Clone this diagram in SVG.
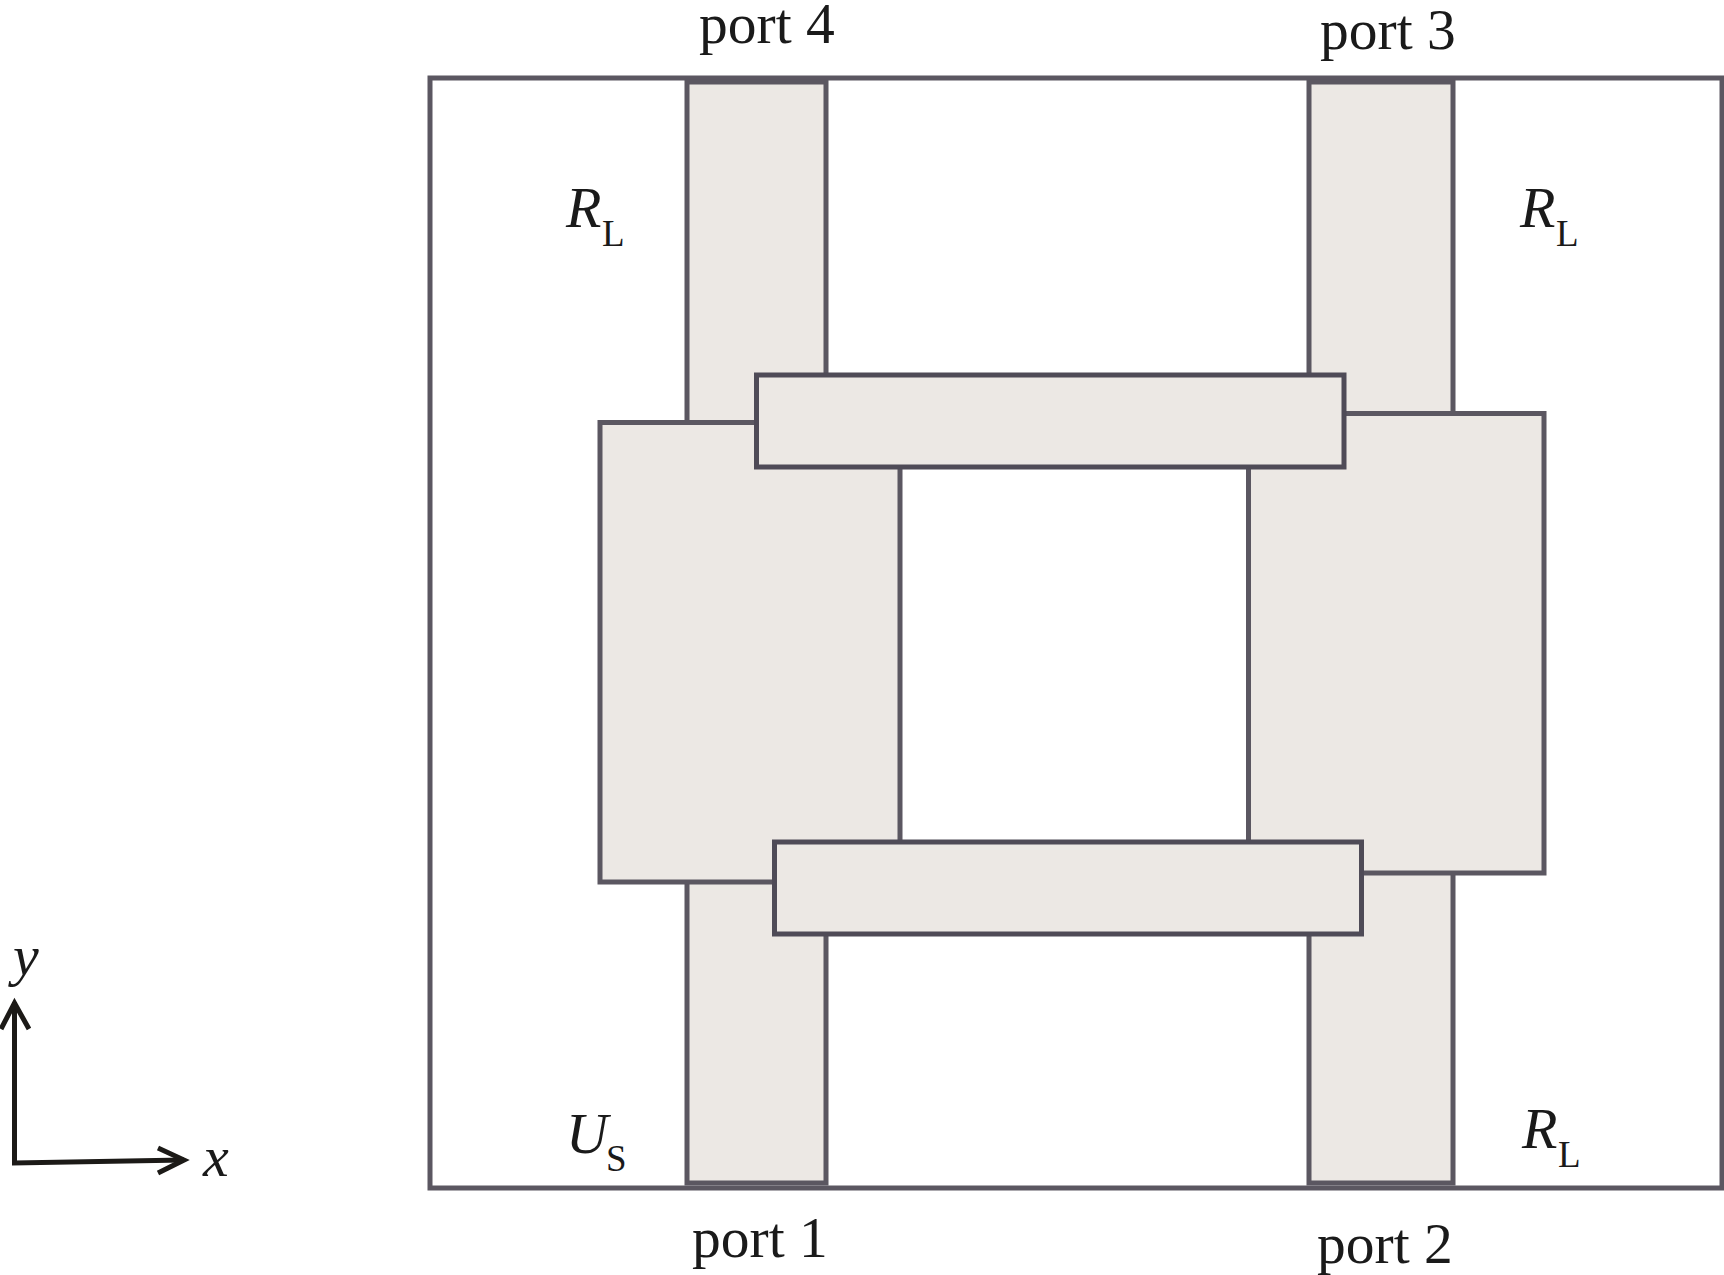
<svg xmlns="http://www.w3.org/2000/svg" width="1724" height="1275" viewBox="0 0 1724 1275">
<style>
.o{fill:#fff;stroke:#5b5761;stroke-width:5}
.m{fill:#ece8e4;stroke:#5b5761;stroke-width:5}
.b{fill:#ece8e4;stroke:#4f4b57;stroke-width:5}
text{font-family:"Liberation Serif","Times New Roman",serif;fill:#1a1a1a}
.t{font-size:57.500px}
.i{font-size:58px;font-style:italic}
.s{font-size:37px}
.a{fill:none;stroke:#1c1a17;stroke-width:5}
</style>
<rect width="1724" height="1275" fill="#fff"/>
<g id="substrate"><rect class="o" x="430" y="78" width="1292" height="1110"/></g>
<g id="line-port4"><rect class="m" x="687" y="82" width="139" height="346"/></g>
<g id="line-port3"><rect class="m" x="1309" y="82" width="144" height="336"/></g>
<g id="line-port1"><rect class="m" x="687" y="878" width="139" height="305"/></g>
<g id="line-port2"><rect class="m" x="1309" y="868" width="144" height="315"/></g>
<g id="block-left"><rect class="m" x="600" y="422.500" width="300" height="459.500"/></g>
<g id="block-right"><rect class="m" x="1248.500" y="413.500" width="295.500" height="459.500"/></g>
<g id="bar-top"><rect class="b" x="756.500" y="375" width="587.500" height="92"/></g>
<g id="bar-bottom"><rect class="b" x="774.500" y="842" width="587" height="92"/></g>
<g id="labels">
<text class="t" x="699" y="43">port 4</text>
<text class="t" x="1320" y="49">port 3</text>
<text class="t" x="692" y="1257">port 1</text>
<text class="t" x="1317" y="1263">port 2</text>
<text class="i" x="566" y="227">R</text><text class="s" x="602" y="246">L</text>
<text class="i" x="1520" y="227">R</text><text class="s" x="1556" y="246">L</text>
<text class="i" x="1522" y="1148">R</text><text class="s" x="1558" y="1167">L</text>
<text class="i" x="566" y="1153">U</text><text class="s" x="606" y="1171">S</text>
<text class="i" x="13" y="975">y</text>
<text class="i" x="203" y="1176">x</text>
</g>
<g id="connectors">
<path class="a" d="M14.500 1002V1163L184 1160"/>
<path class="a" d="M1 1029L14.500 1003L29 1029"/>
<path class="a" d="M158 1148L184 1160L158 1173"/>
</g>
</svg>
